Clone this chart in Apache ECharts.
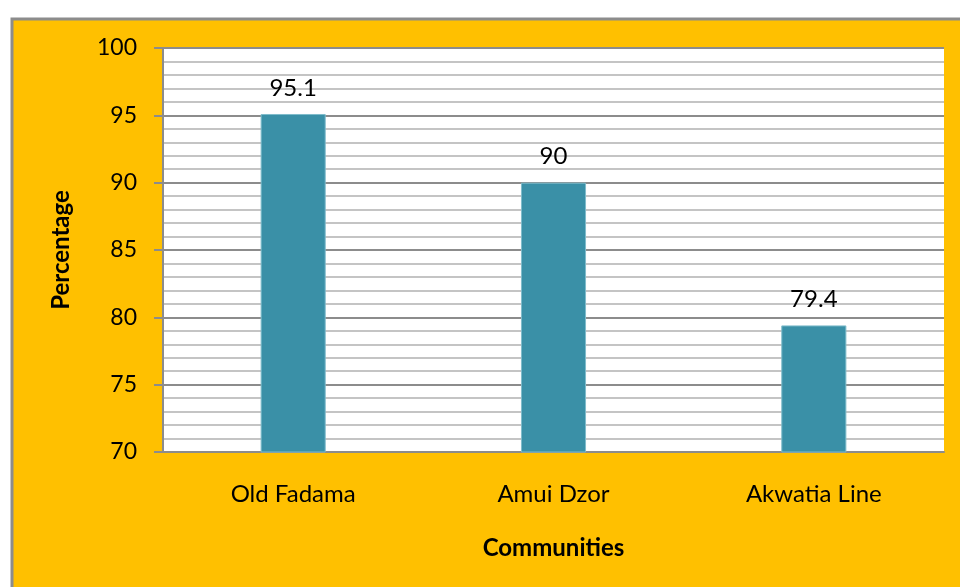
<!DOCTYPE html>
<html><head><meta charset="utf-8">
<script src="https://cdn.jsdelivr.net/npm/echarts@6/dist/echarts.min.js"></script>
<style>html,body{margin:0;padding:0;background:#fff;}#c{width:960px;height:587px;}</style>
</head><body><div id="c"></div>
<script>
const categories = ['Old Fadama', 'Amui Dzor', 'Akwatia Line'];
const values = [95.1, 90, 79.4];
const yTicks = [70, 75, 80, 85, 90, 95, 100];

const chart = echarts.init(document.getElementById('c'));
const font = 'Lato, "Open Sans", sans-serif';
chart.setOption({
  animation: false,
  backgroundColor: '#fff',
  graphic: [{
    type: 'rect', z: -10, silent: true,
    shape: { x: 12, y: 19, width: 960, height: 600 },
    style: { fill: '#FFC000', stroke: '#8c8c8c', lineWidth: 3 }
  }],
  grid: { left: 163, top: 48, right: 16, bottom: 135, show: true, backgroundColor: '#fff', borderWidth: 0 },
  xAxis: {
    type: 'category', data: categories,
    axisLine: { lineStyle: { color: '#8c8c8c', width: 2 } },
    axisTick: { show: false },
    axisLabel: { color: '#000', fontSize: 24, fontFamily: font, margin: 30 },
    name: 'Communities', nameLocation: 'middle', nameGap: 84,
    nameTextStyle: { color: '#000', fontSize: 24, fontWeight: 'bold', fontFamily: font }
  },
  yAxis: {
    type: 'value', min: yTicks[0], max: yTicks[yTicks.length - 1], interval: 5,
    axisLine: { show: true, lineStyle: { color: '#8c8c8c', width: 2 } },
    axisTick: { show: true, inside: false, length: 9, lineStyle: { color: '#8c8c8c', width: 2 } },
    axisLabel: { color: '#000', fontSize: 23, fontFamily: font, margin: 26 },
    splitLine: { show: true, lineStyle: { color: '#8c8c8c', width: 2 } },
    minorTick: { show: false, splitNumber: 5 },
    minorSplitLine: { show: true, lineStyle: { color: '#c4c4c4', width: 2 } },
    name: 'Percentage', nameLocation: 'middle', nameGap: 90, nameRotate: 90,
    nameTextStyle: { color: '#000', fontSize: 24, fontWeight: 'bold', fontFamily: font }
  },
  series: [{
    type: 'bar', data: values, barWidth: '25%',
    itemStyle: { color: '#3A90A7', borderColor: '#7fbccb', borderWidth: 1 },
    label: { show: true, position: 'top', distance: 14, color: '#000', fontSize: 24, fontFamily: font }
  }]
});
</script></body></html>
